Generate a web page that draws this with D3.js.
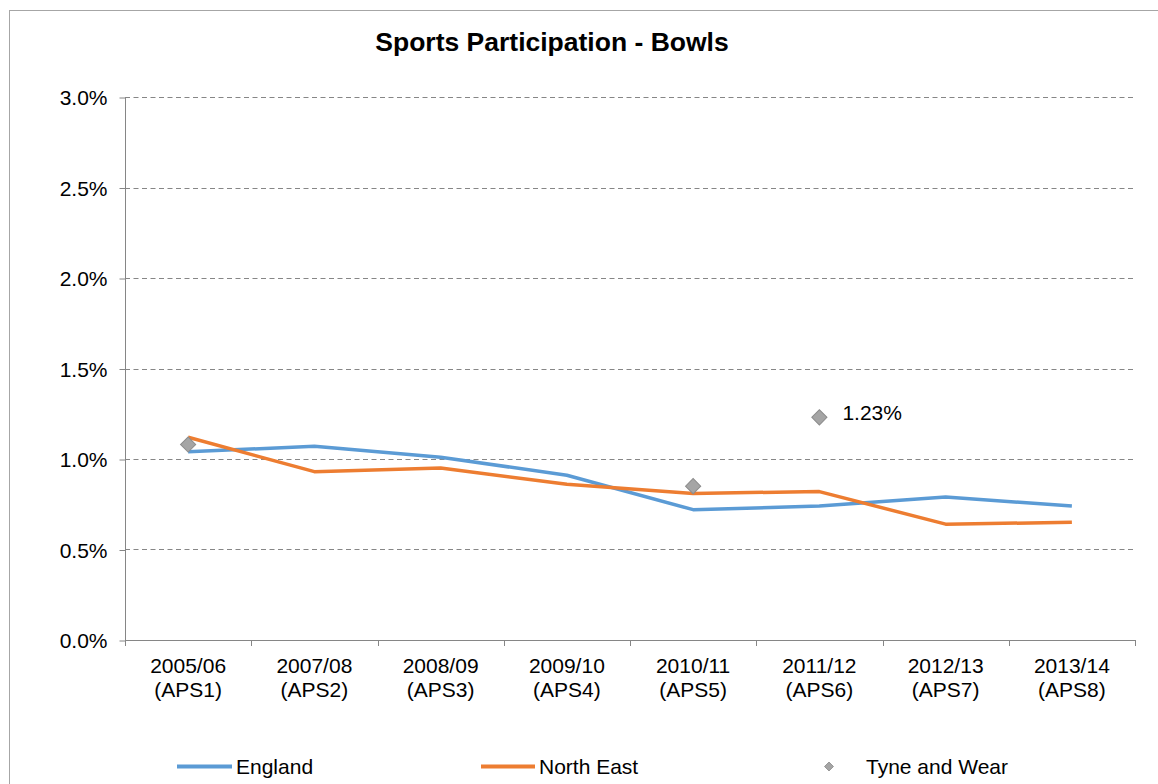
<!DOCTYPE html>
<html>
<head>
<meta charset="utf-8">
<script src="https://cdn.jsdelivr.net/npm/d3@7/dist/d3.min.js"></script>
<style>
  html, body { margin: 0; padding: 0; background: #fff; }
  svg { display: block; font-family: "Liberation Sans", Arial, sans-serif; }
</style>
</head>
<body>
<svg id="chart" width="1158" height="784"></svg>
<script>
// Survey waves (Active People Survey)
const categories = [
  ["2005/06", "(APS1)"], ["2007/08", "(APS2)"], ["2008/09", "(APS3)"], ["2009/10", "(APS4)"],
  ["2010/11", "(APS5)"], ["2011/12", "(APS6)"], ["2012/13", "(APS7)"], ["2013/14", "(APS8)"]
];
// Participation rates (share of adults)
const england   = [0.0104, 0.0107, 0.0101, 0.0091, 0.0072, 0.0074, 0.0079, 0.0074];
const northEast = [0.0112, 0.0093, 0.0095, 0.0086, 0.0081, 0.0082, 0.0064, 0.0065];
const tyneWear  = [0.0108, null, null, null, 0.0085, 0.0123, null, null];
const labelledPoints = [5]; // index of Tyne and Wear point carrying a value label
const yTicks = [0, 0.005, 0.01, 0.015, 0.02, 0.025, 0.03];

const svg = d3.select("#chart");
const plot = { left: 125, right: 1135, top: 97, bottom: 640 };
const axisColor = "#868686";
const fontSize = 21;

// Outer chart frame
svg.append("rect")
  .attr("x", 9.5).attr("y", 10.5).attr("width", 1170).attr("height", 800)
  .attr("fill", "none").attr("stroke", "#a6a6a6").attr("stroke-width", 1);

// Title
svg.append("text")
  .attr("x", 552).attr("y", 51)
  .attr("text-anchor", "middle")
  .attr("font-weight", "bold").attr("font-size", 26.5)
  .attr("fill", "#000")
  .text("Sports Participation - Bowls");

const keys = categories.map(d => d.join(" "));
const x = d3.scaleBand().domain(keys).range([plot.left, plot.right]).padding(0);
const cx = i => x(keys[i]) + x.bandwidth() / 2;
const y = d3.scaleLinear().domain([0, 0.03]).range([plot.bottom, plot.top]);

// Horizontal gridlines
svg.append("g").selectAll("line")
  .data(yTicks.filter(t => t > 0))
  .join("line")
  .attr("x1", plot.left).attr("x2", plot.right)
  .attr("y1", d => Math.round(y(d)) + 0.5).attr("y2", d => Math.round(y(d)) + 0.5)
  .attr("stroke", axisColor).attr("stroke-width", 1)
  .attr("stroke-dasharray", "5,3.5");

// Y axis
const yAxis = svg.append("g")
  .attr("transform", `translate(${plot.left + 0.5},0.5)`)
  .call(d3.axisLeft(y).tickValues(yTicks).tickFormat(d3.format(".1%")).tickSize(6).tickPadding(12));
yAxis.select(".domain").attr("stroke", axisColor).attr("d", `M0,${plot.top}V${plot.bottom}`);
yAxis.selectAll(".tick line").attr("stroke", axisColor);
yAxis.selectAll(".tick text")
  .attr("font-size", fontSize).attr("font-family", "Liberation Sans, Arial, sans-serif")
  .attr("fill", "#000").attr("dy", "0.35em");

// X axis line and category boundary ticks
const xAxis = svg.append("g");
xAxis.append("line")
  .attr("x1", plot.left).attr("x2", plot.right)
  .attr("y1", plot.bottom + 0.5).attr("y2", plot.bottom + 0.5)
  .attr("stroke", axisColor);
const bounds = keys.map(k => x(k)).concat([x(keys[keys.length - 1]) + x.bandwidth()]);
xAxis.selectAll("line.b").data(bounds).join("line").attr("class", "b")
  .attr("x1", d => Math.round(d) + 0.5).attr("x2", d => Math.round(d) + 0.5)
  .attr("y1", plot.bottom).attr("y2", plot.bottom + 6)
  .attr("stroke", axisColor);
const xl = xAxis.selectAll("text").data(categories).join("text")
  .attr("x", (d, i) => cx(i)).attr("y", 673)
  .attr("text-anchor", "middle").attr("font-size", fontSize).attr("fill", "#000");
xl.append("tspan").attr("x", (d, i) => cx(i)).text(d => d[0]);
xl.append("tspan").attr("x", (d, i) => cx(i)).attr("dy", 23.5).text(d => d[1]);

// Series lines
const line = d3.line().x((d, i) => cx(i)).y(d => y(d));
svg.append("path").datum(england)
  .attr("d", line).attr("fill", "none")
  .attr("stroke", "#5B9BD5").attr("stroke-width", 3.5).attr("stroke-linejoin", "round");
svg.append("path").datum(northEast)
  .attr("d", line).attr("fill", "none")
  .attr("stroke", "#ED7D31").attr("stroke-width", 3.5).attr("stroke-linejoin", "round");

// Tyne and Wear markers (squares turned into diamonds)
const twPoints = tyneWear.map((v, i) => ({ v, i })).filter(d => d.v != null);
svg.append("g").selectAll("path")
  .data(twPoints).join("path")
  .attr("transform", d => `translate(${cx(d.i)},${y(d.v)}) rotate(45)`)
  .attr("d", d3.symbol().type(d3.symbolSquare).size(115))
  .attr("fill", "#A5A5A5").attr("stroke", "#8C8C8C").attr("stroke-width", 1);
svg.append("g").selectAll("text")
  .data(twPoints.filter(d => labelledPoints.includes(d.i))).join("text")
  .attr("x", d => cx(d.i) + 23).attr("y", d => y(d.v) + 2.5)
  .attr("font-size", fontSize).attr("fill", "#000")
  .text(d => d3.format(".2%")(d.v));

// Legend
const legendY = 766.5;
const lg = svg.append("g");
[["England", "#5B9BD5", 177, 232, 236], ["North East", "#ED7D31", 481, 535, 539]].forEach(([name, col, x1, x2, tx]) => {
  lg.append("line").attr("x1", x1).attr("x2", x2).attr("y1", legendY).attr("y2", legendY)
    .attr("stroke", col).attr("stroke-width", 4);
  lg.append("text").attr("x", tx).attr("y", 774).attr("font-size", fontSize).attr("fill", "#000").text(name);
});
lg.append("path")
  .attr("transform", `translate(829,${legendY}) rotate(45)`)
  .attr("d", d3.symbol().type(d3.symbolSquare).size(40))
  .attr("fill", "#A5A5A5").attr("stroke", "#8C8C8C").attr("stroke-width", 0.8);
lg.append("text").attr("x", 866).attr("y", 774).attr("font-size", fontSize).attr("fill", "#000").text("Tyne and Wear");
</script>
</body>
</html>
